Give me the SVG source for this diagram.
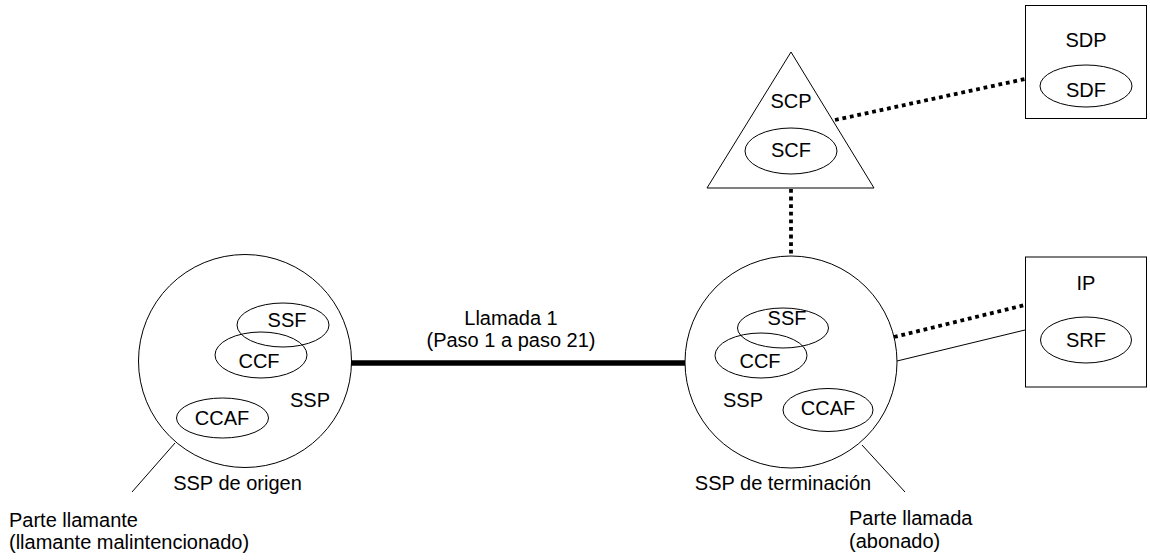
<svg xmlns="http://www.w3.org/2000/svg" width="1150" height="560" viewBox="0 0 1150 560">
<style>
.o{fill:none;stroke:#000;stroke-width:1}
.t{font-family:"Liberation Sans",Arial,sans-serif;font-size:20px;fill:#000}
.c{text-anchor:middle}
.dot{fill:none;stroke:#000;stroke-width:3.8;stroke-dasharray:3.8 3.8}
.thin{fill:none;stroke:#000;stroke-width:1}
</style>
<rect width="1150" height="560" fill="#fff"/>
<g id="connectors">
<line x1="351" y1="363" x2="685" y2="363" stroke="#000" stroke-width="5.5"/>
<line class="dot" x1="791" y1="189" x2="791" y2="256"/>
<line class="dot" x1="835" y1="120" x2="1025" y2="79"/>
<line class="dot" x1="894" y1="337" x2="1025" y2="305"/>
<line class="thin" x1="897" y1="361" x2="1025" y2="330"/>
<line class="thin" x1="175" y1="443" x2="132" y2="492"/>
<line class="thin" x1="862" y1="445" x2="905" y2="492"/>
</g>
<g id="ssp-origen">
<circle class="o" cx="245" cy="361" r="106.5"/>
<ellipse class="o" cx="283" cy="325" rx="46" ry="22"/>
<ellipse class="o" cx="261" cy="355" rx="46" ry="23"/>
<ellipse class="o" cx="222.5" cy="418" rx="46" ry="20"/>
<text class="t c" x="287" y="327">SSF</text>
<text class="t c" x="259" y="368">CCF</text>
<text class="t c" x="310" y="407">SSP</text>
<text class="t c" x="222" y="425">CCAF</text>
<text class="t c" x="237.5" y="490">SSP de origen</text>
</g>
<g id="ssp-terminacion">
<circle class="o" cx="791" cy="362" r="106"/>
<ellipse class="o" cx="783" cy="328" rx="45.5" ry="20"/>
<ellipse class="o" cx="761" cy="355.5" rx="46" ry="22.5"/>
<ellipse class="o" cx="828" cy="410" rx="45" ry="21.5"/>
<text class="t c" x="787" y="325">SSF</text>
<text class="t c" x="760" y="368">CCF</text>
<text class="t c" x="743" y="407">SSP</text>
<text class="t c" x="828" y="415">CCAF</text>
<text class="t c" x="783" y="490">SSP de terminación</text>
</g>
<g id="scp">
<polygon class="o" points="791,52 874,188 707,188"/>
<ellipse class="o" cx="791" cy="151" rx="46" ry="23"/>
<text class="t c" x="791" y="108">SCP</text>
<text class="t c" x="791" y="157">SCF</text>
</g>
<g id="sdp">
<rect class="o" x="1025.5" y="5.5" width="121" height="113"/>
<ellipse class="o" cx="1086" cy="86" rx="46" ry="21"/>
<text class="t c" x="1086" y="47">SDP</text>
<text class="t c" x="1086" y="97">SDF</text>
</g>
<g id="ip">
<rect class="o" x="1025.5" y="257" width="121" height="130"/>
<ellipse class="o" cx="1086" cy="340" rx="45.5" ry="23"/>
<text class="t c" x="1086" y="290">IP</text>
<text class="t c" x="1086" y="347">SRF</text>
</g>
<g id="llamada">
<text class="t c" x="511" y="325">Llamada 1</text>
<text class="t c" x="511" y="347">(Paso 1 a paso 21)</text>
</g>
<g id="parte-llamante">
<text class="t" x="9" y="527">Parte llamante</text>
<text class="t" x="9" y="549">(llamante malintencionado)</text>
</g>
<g id="parte-llamada">
<text class="t" x="849" y="525">Parte llamada</text>
<text class="t" x="849" y="548">(abonado)</text>
</g>
</svg>
